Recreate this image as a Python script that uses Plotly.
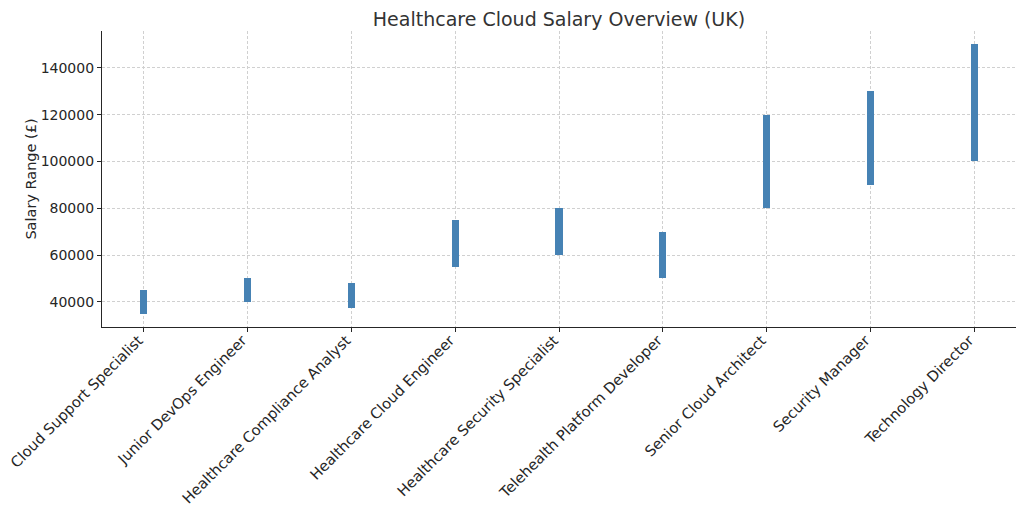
import plotly.graph_objects as go

roles = [
    "Cloud Support Specialist",
    "Junior DevOps Engineer",
    "Healthcare Compliance Analyst",
    "Healthcare Cloud Engineer",
    "Healthcare Security Specialist",
    "Telehealth Platform Developer",
    "Senior Cloud Architect",
    "Security Manager",
    "Technology Director",
]
salary_min = [35000, 40000, 37500, 55000, 60000, 50000, 80000, 90000, 100000]
salary_max = [45000, 50000, 48000, 75000, 80000, 70000, 120000, 130000, 150000]

y_ticks = [40000, 60000, 80000, 100000, 120000, 140000]

font = "DejaVu Sans"
bar_color = "#4682B4"
grid_color = "#d0d0d0"

fig = go.Figure()

# each range drawn as a thin floating bar
fig.add_trace(
    go.Bar(
        x=list(range(len(roles))),
        y=[hi - lo for lo, hi in zip(salary_min, salary_max)],
        base=salary_min,
        width=0.068,
        marker=dict(color=bar_color, line=dict(width=0)),
        hovertext=roles,
        showlegend=False,
    )
)

# page body adds an 8px offset, so margins are trimmed to match
fig.update_layout(
    width=1024,
    height=510,
    margin=dict(l=94, r=16, t=23, b=191),
    paper_bgcolor="white",
    plot_bgcolor="white",
    font=dict(family=font, size=14, color="#262626"),
    title=dict(
        text="Healthcare Cloud Salary Overview (UK)",
        x=0.5,
        xanchor="center",
        xref="paper",
        yref="container",
        y=0.978,
        yanchor="middle",
        font=dict(family=font, size=19, color="#333333"),
    ),
    bargap=0,
)

fig.update_xaxes(
    automargin=False,
    range=[-0.4, 8.4],
    tickmode="array",
    tickvals=list(range(len(roles))),
    ticktext=roles,
    tickangle=-45,
    tickfont=dict(size=14.7),
    ticklabelstandoff=-6,
    ticklabelshift=-5,
    ticklabeloverflow="allow",
    showgrid=True,
    gridcolor=grid_color,
    griddash="3px,2px",
    gridwidth=0.8,
    showline=True,
    linecolor="#262626",
    linewidth=1.2,
    ticks="outside",
    ticklen=4,
    tickcolor="#262626",
    zeroline=False,
)

fig.update_yaxes(
    automargin=False,
    range=[29250, 155750],
    tickmode="array",
    tickvals=y_ticks,
    ticktext=[str(v) for v in y_ticks],
    tickfont=dict(size=14),
    title=dict(text="Salary Range (£)", font=dict(size=14.5), standoff=0),
    showgrid=True,
    gridcolor=grid_color,
    griddash="3px,2px",
    gridwidth=0.8,
    showline=True,
    linecolor="#262626",
    linewidth=1.2,
    ticks="outside",
    ticklen=4,
    tickcolor="#262626",
    zeroline=False,
)

fig.write_html("out.html")
